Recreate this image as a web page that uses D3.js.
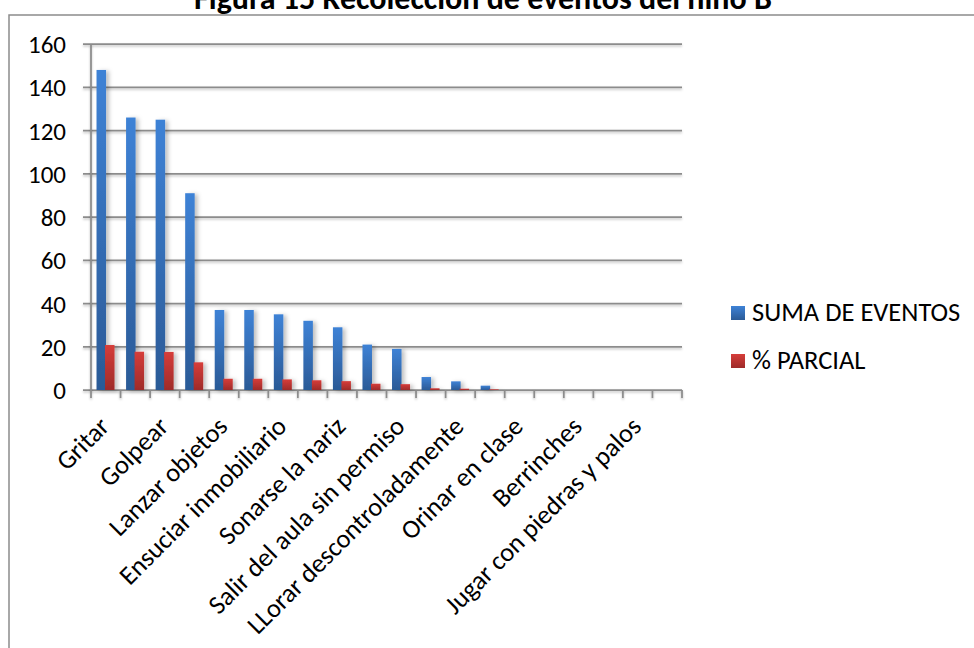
<!DOCTYPE html>
<html>
<head>
<meta charset="utf-8">
<script src="https://cdn.jsdelivr.net/npm/d3@7"></script>
<style>
  html, body { margin: 0; padding: 0; background: #fff; }
  svg { display: block; }
  text { font-family: Calibri, Carlito, Lato, sans-serif; fill: #000; }
</style>
</head>
<body>
<svg id="chart" width="974" height="648"></svg>
<script>
// Behaviour categories (every second label is shown on the axis)
const categories = [
  "Gritar", "", "Golpear", "", "Lanzar objetos", "", "Ensuciar inmobiliario", "",
  "Sonarse la nariz", "", "Salir del aula sin permiso", "", "LLorar descontroladamente", "",
  "Orinar en clase", "", "Berrinches", "", "Jugar con piedras y palos", ""
];
// Total number of recorded events per behaviour
const sumaEventos = [148, 126, 125, 91, 37, 37, 35, 32, 29, 21, 19, 6, 4, 2, 0, 0, 0, 0, 0, 0];
// Partial percentage per behaviour
const parcial = [20.8, 17.7, 17.6, 12.8, 5.2, 5.2, 4.9, 4.5, 4.1, 2.9, 2.7, 0.8, 0.6, 0.3, 0, 0, 0, 0, 0, 0];
const yTicks = [0, 20, 40, 60, 80, 100, 120, 140, 160];
const seriesNames = ["SUMA DE EVENTOS", "% PARCIAL"];
const title = "Figura  15 Recolección de eventos del niño B";

const svg = d3.select("#chart");
const plot = { left: 91, right: 682, top: 44, bottom: 390 };

const x = d3.scaleBand()
  .domain(d3.range(categories.length))
  .range([plot.left, plot.right])
  .paddingInner(0).paddingOuter(0);
const y = d3.scaleLinear().domain([0, 160]).range([plot.bottom, plot.top]);

// gradients and bar shadow
const defs = svg.append("defs");
function grad(id, top, bottom) {
  const g = defs.append("linearGradient").attr("id", id)
    .attr("x1", 0).attr("y1", 0).attr("x2", 0).attr("y2", 1);
  g.append("stop").attr("offset", "0%").attr("stop-color", top);
  g.append("stop").attr("offset", "100%").attr("stop-color", bottom);
}
grad("gBlue", "#3e82d6", "#2b5a96");
grad("gRed", "#d63d3a", "#9e2b29");
const f = defs.append("filter").attr("id", "shadow")
  .attr("x", "-50%").attr("y", "-10%").attr("width", "200%").attr("height", "120%");
f.append("feDropShadow").attr("dx", 3).attr("dy", 1).attr("stdDeviation", 2)
  .attr("flood-color", "#000").attr("flood-opacity", 0.25);
const gl = defs.append("filter").attr("id", "lineShadow")
  .attr("x", "-5%").attr("y", "-300%").attr("width", "110%").attr("height", "700%");
gl.append("feDropShadow").attr("dx", 0).attr("dy", 1.5).attr("stdDeviation", 1)
  .attr("flood-color", "#000").attr("flood-opacity", 0.25);

// chart frame
svg.append("rect")
  .attr("x", 9).attr("y", 15).attr("width", 980).attr("height", 650)
  .attr("fill", "none").attr("stroke", "#8c8c8c").attr("stroke-width", 1.5);

// title (runs past the top edge of the canvas)
svg.append("text")
  .attr("x", 483).attr("y", 9)
  .attr("text-anchor", "middle")
  .attr("font-weight", "bold")
  .attr("font-size", 32)
  .text(title);

// gridlines with y tick marks
const grid = svg.append("g").attr("filter", "url(#lineShadow)");
grid.selectAll("line.grid").data(yTicks).join("line")
  .attr("class", "grid")
  .attr("x1", plot.left - 8).attr("x2", plot.right)
  .attr("y1", d => y(d)).attr("y2", d => y(d))
  .attr("stroke", "#8c8c8c").attr("stroke-width", 1.75);

// y axis
const yAxis = svg.append("g").attr("filter", "url(#lineShadow)");
yAxis.append("line")
  .attr("x1", plot.left).attr("x2", plot.left)
  .attr("y1", plot.top).attr("y2", plot.bottom + 8)
  .attr("stroke", "#8c8c8c").attr("stroke-width", 1.75);

// x tick marks
const xTickPos = d3.range(categories.length + 1).map(i =>
  i < categories.length ? x(i) : x(categories.length - 1) + x.bandwidth());
yAxis.selectAll("line.xt").data(xTickPos.slice(1)).join("line")
  .attr("class", "xt")
  .attr("x1", d => d).attr("x2", d => d)
  .attr("y1", plot.bottom).attr("y2", plot.bottom + 8)
  .attr("stroke", "#8c8c8c").attr("stroke-width", 1.75);

// y tick labels
svg.append("g").selectAll("text").data(yTicks).join("text")
  .attr("x", 66).attr("y", d => y(d))
  .attr("dy", "0.36em")
  .attr("text-anchor", "end")
  .attr("font-size", 25)
  .text(d => d);

// bars
const bw = 9.5;
const bars = svg.append("g").attr("filter", "url(#shadow)");
const cx = i => x(i) + x.bandwidth() / 2;
bars.selectAll("rect.s1").data(sumaEventos).join("rect")
  .attr("class", "s1")
  .attr("x", (d, i) => cx(i) - 9.25).attr("width", bw)
  .attr("y", d => y(d)).attr("height", d => y(0) - y(d))
  .attr("fill", "url(#gBlue)");
bars.selectAll("rect.s2").data(parcial).join("rect")
  .attr("class", "s2")
  .attr("x", (d, i) => cx(i) - 0.75).attr("width", bw)
  .attr("y", d => y(d)).attr("height", d => y(0) - y(d))
  .attr("fill", "url(#gRed)");

// category labels, rotated
svg.append("g").selectAll("text")
  .data(categories.map((c, i) => ({ c, i })).filter(d => d.c !== ""))
  .join("text")
  .attr("transform", d => `translate(${cx(d.i) + 5},${plot.bottom + 38}) rotate(-45)`)
  .attr("text-anchor", "end")
  .attr("font-size", 26.3)
  .text(d => d.c);

// legend
const colors = ["url(#gBlue)", "url(#gRed)"];
const lg = svg.append("g").selectAll("g").data(seriesNames).join("g")
  .attr("transform", (d, i) => `translate(731,${306 + i * 48})`);
lg.append("rect").attr("width", 14).attr("height", 14)
  .attr("fill", (d, i) => colors[i]);
lg.append("text").attr("x", 21).attr("y", 15)
  .attr("font-size", 26.5)
  .text(d => d);
</script>
</body>
</html>
